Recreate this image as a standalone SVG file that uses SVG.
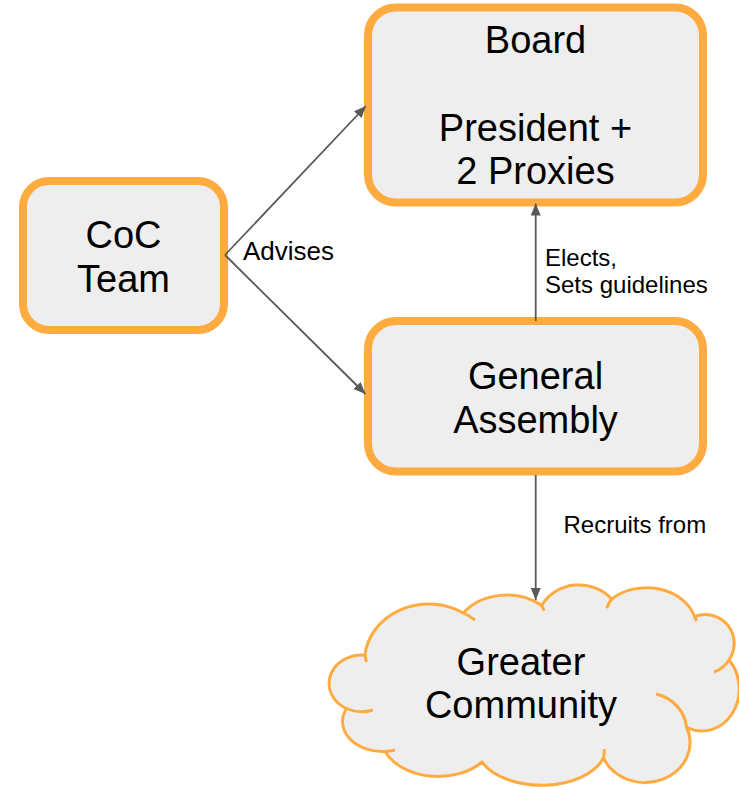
<svg xmlns="http://www.w3.org/2000/svg" width="739" height="787" viewBox="0 0 739 787">
  <style>
    .box { fill: #eeeeee; stroke: #ffab40; stroke-width: 8; }
    .cloud { fill: #eeeeee; stroke: #ffab40; stroke-width: 3; stroke-linejoin: round; }
    .stub { fill: none; stroke: #ffab40; stroke-width: 3; }
    .node-text { font-family: "Liberation Sans", Arial, sans-serif; font-size: 38px; fill: #000000; text-anchor: middle; }
    .label { font-family: "Liberation Sans", Arial, sans-serif; font-size: 24px; fill: #000000; }
    .conn { fill: none; stroke: #595959; stroke-width: 1.8; }
  </style>
  <defs>
    <marker id="arrow" markerUnits="userSpaceOnUse" markerWidth="13" markerHeight="11" refX="12" refY="5" orient="auto">
      <path d="M0,0 L12,5 L0,10 Z" fill="#595959"/>
    </marker>
  </defs>

  <g id="board">
    <rect class="box" x="368" y="7.5" width="335" height="195" rx="28" ry="28"/>
    <text class="node-text" x="535.5" y="53.3">Board</text>
    <text class="node-text" x="535.5" y="140.7">President +</text>
    <text class="node-text" x="535.5" y="184.4">2 Proxies</text>
  </g>

  <g id="coc-team">
    <rect class="box" x="23" y="181" width="201" height="149" rx="26" ry="26"/>
    <text class="node-text" x="123.5" y="248.3">CoC</text>
    <text class="node-text" x="123.5" y="291.7">Team</text>
  </g>

  <g id="general-assembly">
    <rect class="box" x="368" y="321" width="335" height="150.5" rx="28" ry="28"/>
    <text class="node-text" x="535.5" y="389">General</text>
    <text class="node-text" x="535.5" y="432.5">Assembly</text>
  </g>

  <g id="greater-community">
    <path class="cloud" d="M 346.5 708.5
      A 33 28.5 0 0 1 365 655
      A 64 57 0 0 1 463.3 613
      A 54 44 0 0 1 541.7 605.5
      A 42 38 0 0 1 611.7 599
      A 50 40 0 0 1 694.5 616.5
      A 29 29 0 0 1 729 660
      A 37 42 0 0 1 686.5 727
      A 45 40 0 0 1 603.5 758
      A 65 39 0 0 1 482 762
      A 58 42 0 0 1 385 751.5
      A 40 30 0 0 1 346.5 708.5 Z"/>
    <path class="stub" d="M 366.5 662 A 64 57 0 0 1 365 655
      M 463.3 613 A 64 57 0 0 1 475 620
      M 541.7 605.5 A 54 44 0 0 1 544 611
      M 606.7 608.3 A 50 40 0 0 1 611.7 599
      M 694.5 616.5 A 50 40 0 0 1 696.5 621
      M 729 660 A 29 29 0 0 1 714 672
      M 656 694 A 40 38 0 0 1 686.5 727
      M 604 749 A 65 39 0 0 1 603.5 758
      M 395 750 A 40 30 0 0 1 385 751.5
      M 373 710 A 33 28.5 0 0 1 346.5 708.5"/>
    <text class="node-text" x="521" y="675">Greater</text>
    <text class="node-text" x="521" y="718.3">Community</text>
  </g>

  <g id="connectors">
    <path class="conn" d="M 225 255 L 366 106" marker-end="url(#arrow)"/>
    <path class="conn" d="M 225 255 L 365.5 394" marker-end="url(#arrow)"/>
    <path class="conn" d="M 535.7 321 L 535.7 203.5" marker-end="url(#arrow)"/>
    <path class="conn" d="M 535.7 475 L 535.7 600" marker-end="url(#arrow)"/>
    <text class="label" x="243" y="260" style="font-size:26px">Advises</text>
    <text class="label" x="545" y="266">Elects,</text>
    <text class="label" x="545" y="293.3">Sets guidelines</text>
    <text class="label" x="563.5" y="533">Recruits from</text>
  </g>
</svg>
